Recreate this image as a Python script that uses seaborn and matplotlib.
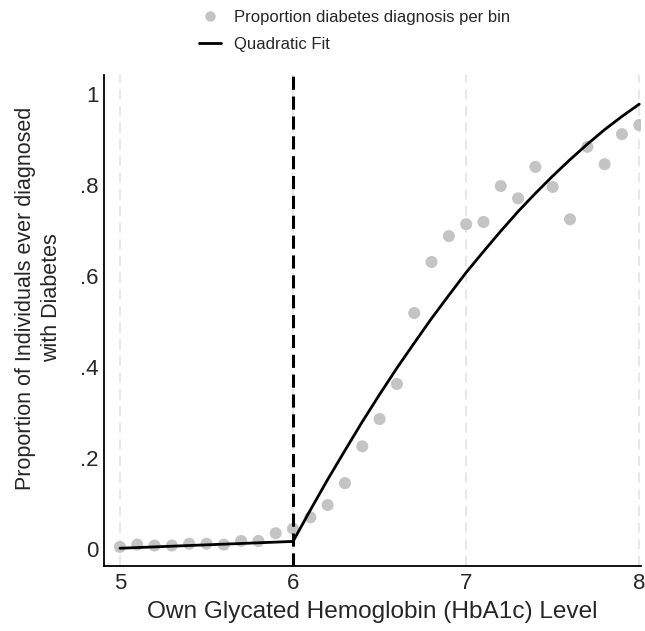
import numpy as np
import pandas as pd
import matplotlib
matplotlib.use("Agg")
import matplotlib.pyplot as plt
import seaborn as sns
from matplotlib.lines import Line2D

# ---- data ----
bin_x = [5.0, 5.1, 5.2, 5.3, 5.4, 5.5, 5.6, 5.7, 5.8, 5.9, 6.0,
         6.1, 6.2, 6.3, 6.4, 6.5, 6.6, 6.7, 6.8, 6.9, 7.0,
         7.1, 7.2, 7.3, 7.4, 7.5, 7.6, 7.7, 7.8, 7.9, 8.0]
bin_prop = [0.005, 0.010, 0.008, 0.008, 0.012, 0.012, 0.010, 0.018, 0.018, 0.035, 0.045,
            0.070, 0.097, 0.145, 0.226, 0.286, 0.363, 0.519, 0.631, 0.688, 0.714,
            0.719, 0.798, 0.771, 0.840, 0.796, 0.725, 0.884, 0.846, 0.912, 0.932]

# fitted line values
fit_left_x = [5.0, 6.0]
fit_left_y = [0.002, 0.017]
fit_right_x = [6.0, 6.1, 6.2, 6.3, 6.4, 6.5, 6.6, 6.7, 6.8, 6.9, 7.0,
               7.1, 7.2, 7.3, 7.4, 7.5, 7.6, 7.7, 7.8, 7.9, 8.0]
fit_right_y = [0.017, 0.086, 0.153, 0.217, 0.280, 0.340, 0.398, 0.453, 0.507, 0.558, 0.608,
               0.654, 0.699, 0.742, 0.782, 0.820, 0.856, 0.890, 0.922, 0.951, 0.978]

cutoff = 6.0
x_ticks = [5, 6, 7, 8]
x_ticklabels = ["5", "6", "7", "8"]
y_ticks = [0, 0.2, 0.4, 0.6, 0.8, 1.0]
y_ticklabels = ["0", ".2", ".4", ".6", ".8", "1"]

sns.set_style("white")
plt.rcParams['font.family'] = ['Liberation Sans', 'DejaVu Sans']

fig = plt.figure(figsize=(6.45, 6.31), dpi=100)
ax = fig.add_axes([104/645, 1 - 566/631, (641 - 104)/645, (566 - 75)/631])

# vertical light grid lines
for xv in x_ticks:
    ax.axvline(xv, color="#e3e3e3", lw=1.2, ls=(0, (6, 4)), zorder=0)

df_pts = pd.DataFrame({"x": bin_x, "y": bin_prop})
sns.scatterplot(data=df_pts, x="x", y="y", ax=ax, color="#c4c4c4",
                s=75, edgecolor="none", zorder=2, legend=False)

df_l = pd.DataFrame({"x": fit_left_x, "y": fit_left_y})
df_r = pd.DataFrame({"x": fit_right_x, "y": fit_right_y})
sns.lineplot(data=df_l, x="x", y="y", ax=ax, color="black", lw=2.0, zorder=3)
sns.lineplot(data=df_r, x="x", y="y", ax=ax, color="black", lw=2.0, zorder=3)

ax.axvline(cutoff, color="black", lw=2.2, ls=(0, (4.3, 2.2)), zorder=4)

ax.set_xlim(4.908, 8.01)
ax.set_ylim(-0.037, 1.042)
ax.set_xticks(x_ticks)
ax.set_xticklabels(x_ticklabels, fontsize=16)
ax.set_yticks(y_ticks)
ax.set_yticklabels(y_ticklabels, fontsize=16)
ax.tick_params(axis="x", length=0, pad=5)
ax.tick_params(axis="y", length=0, pad=4)
ax.set_xlabel("Own Glycated Hemoglobin (HbA1c) Level", fontsize=17.6, labelpad=5)
ax.set_ylabel("Proportion of Individuals ever diagnosed\nwith Diabetes", fontsize=15.5,
              linespacing=1.3)
ax.yaxis.set_label_coords(-42/537, 0.546)

for s in ["top", "right"]:
    ax.spines[s].set_visible(False)
for s in ["left", "bottom"]:
    ax.spines[s].set_color("black")
    ax.spines[s].set_linewidth(1.3)

handles = [
    Line2D([], [], ls="none", marker="o", color="#c4c4c4", markersize=7.5,
           markeredgecolor="none", label="Proportion diabetes diagnosis per bin"),
    Line2D([], [], color="black", lw=2.0, label="Quadratic Fit"),
]
fig.legend(handles=handles, loc="upper left", bbox_to_anchor=(184/645, 1.008),
           frameon=False, fontsize=12, handlelength=1.3, handletextpad=0.8,
           labelspacing=0.7)

fig.savefig("out.png", dpi=100)
